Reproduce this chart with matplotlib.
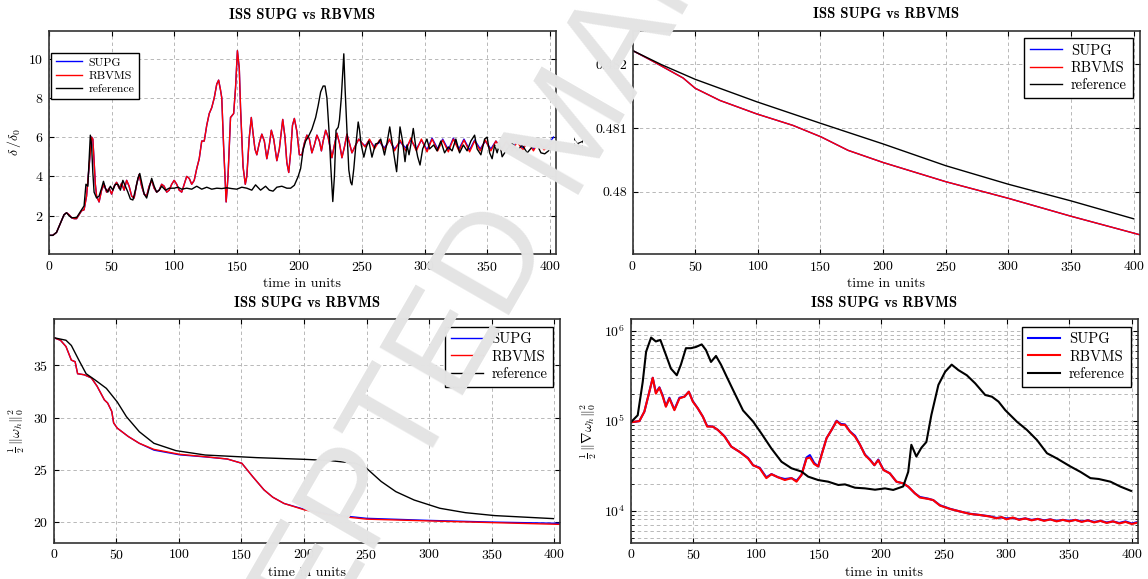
""" plot.py """

import numpy as np
import matplotlib
matplotlib.use("Agg")
import matplotlib.pyplot as plt
from matplotlib.ticker import FixedLocator, FuncFormatter, LogLocator

plt.rcParams['font.family'] = 'serif'
plt.rcParams['font.serif'] = ['cmr10']
plt.rcParams['mathtext.fontset'] = 'cm'
plt.rcParams['axes.formatter.use_mathtext'] = True
plt.rcParams['axes.unicode_minus'] = False

###################################################
# Data
###################################################

series_names = ["SUPG", "RBVMS", "reference"]
chart_title = "ISS SUPG vs RBVMS"
x_label = "time in units"

# --- delta / delta_0 (top left) ---
t_delta = [0, 3, 6, 9, 12, 14, 16, 18, 20, 22, 24, 26, 28, 30, 32, 34, 35, 36,
           37, 38, 40, 42, 44, 46, 48, 50, 52, 54, 56, 58, 60, 62, 64, 66, 68,
           70, 72, 74, 76, 78, 80, 82, 84, 86, 88, 90, 92, 94, 96, 98, 100,
           102, 104, 106, 108, 110, 112, 114, 116, 118, 120, 122, 124, 126,
           128, 130, 132, 134, 135.5, 137, 138, 139.5, 141.5, 143, 145, 147.5,
           149, 150.5, 152, 153, 155, 156.8, 158, 160, 161.6, 163, 164.5, 166,
           168, 170, 172, 174, 176, 177.6, 179.5, 182, 184, 186.7, 188.5, 190,
           191.5, 193, 194.5, 196, 198, 200, 202, 204, 206, 208, 210, 212, 214,
           216, 217.6, 219, 221, 223, 226, 228, 230, 232, 234, 236, 238, 240,
           242, 245, 247.5]
rbvms_delta_early = [1.0, 1.0, 1.15, 1.6, 2.05, 2.15, 2.05, 1.9, 1.85, 1.85,
                     2.05, 2.25, 2.3, 3.0, 4.5, 6.0, 5.9, 4.8, 3.6, 3.0, 2.7,
                     3.3, 3.6, 3.2, 3.4, 3.1, 3.5, 3.7, 3.4, 3.65, 3.3, 3.8,
                     3.5, 3.0, 2.9, 3.6, 4.1, 3.5, 3.1, 3.0, 3.5, 3.8, 3.4,
                     3.2, 3.3, 3.6, 3.5, 3.2, 3.3, 3.6, 3.8, 3.6, 3.3, 3.2,
                     3.6, 4.0, 3.9, 3.6, 3.8, 4.4, 4.9, 5.8, 5.8, 6.6, 7.2,
                     7.5, 8.0, 8.7, 8.9, 8.4, 8.0, 5.5, 2.7, 4.0, 7.0, 7.2,
                     8.5, 10.4, 9.5, 7.5, 4.5, 3.6, 4.0, 6.0, 7.0, 6.2, 5.4,
                     5.1, 5.7, 6.15, 5.8, 4.9, 5.6, 6.35, 5.9, 4.8, 5.4, 6.9,
                     6.0, 4.7, 4.2, 5.2, 6.6, 6.95, 6.3, 5.1, 5.1, 5.7, 6.1,
                     5.9, 5.2, 5.6, 6.1, 5.8, 5.3, 5.8, 6.35, 6.0, 4.95, 5.6,
                     6.2, 5.7, 4.95, 5.5, 6.15, 5.7, 5.2, 5.6, 5.9]
t_delta_late = [250, 252.5, 256, 260, 264, 268, 272, 276, 280.5, 285, 289,
                293.5, 297.5, 302, 306, 310.5, 314.5, 319, 323, 327.5, 331.5,
                336, 340, 344.5, 348.5, 353, 357, 361.5, 365.5, 370, 374,
                378.5, 382.5, 387, 391, 395.5, 399.5, 403]
rbvms_delta_late = [5.7, 5.5, 5.9, 5.4, 5.85, 5.35, 5.9, 5.3, 5.85, 5.3,
                    5.95, 5.3, 5.9, 5.25, 5.9, 5.3, 5.85, 5.25, 5.9, 5.3,
                    5.85, 5.25, 5.8, 5.3, 5.85, 5.3, 5.8, 5.35, 5.8, 5.3,
                    5.75, 5.35, 5.8, 5.3, 5.75, 5.35, 5.6, 5.7]
supg_delta_late = [5.7, 5.55, 5.85, 5.5, 5.75, 5.45, 5.85, 5.4, 5.75, 5.45,
                   5.85, 5.4, 5.85, 5.35, 5.95, 5.4, 5.9, 5.35, 5.95, 5.4,
                   5.9, 5.35, 5.85, 5.4, 5.8, 5.4, 5.8, 5.45, 5.75, 5.4,
                   5.8, 5.45, 5.75, 5.4, 5.8, 5.45, 5.7, 6.0]

t_delta_ref = [0, 3, 6, 9, 12, 14, 16, 18, 20, 22, 24, 26, 28, 29.5, 31, 33,
               34, 35, 36, 38, 40, 42, 43.5, 45, 47, 49, 51, 53, 55, 57, 59,
               61, 63, 65, 67, 69, 71, 72.5, 74, 76, 78, 80, 82, 84, 86, 88,
               90, 93, 96, 100, 103, 106, 110, 114, 118, 122, 126, 130, 134,
               138, 142, 146, 150, 154, 158, 162, 165, 169, 173, 176, 179,
               182, 186, 190, 193, 196, 199, 201, 203, 205, 207, 210, 213,
               215, 217, 219, 220.5, 222, 224, 225, 226.7, 228, 229.3, 231,
               232, 233.5, 235.5, 236.5, 238, 239.5, 241, 242, 243.5, 245,
               247, 248, 249.3, 251.5, 253.5, 255.5, 258, 260.8, 263, 265,
               268, 270, 272.2, 275, 277.7, 280.4, 282.3, 284.4, 286, 287.6,
               289, 291, 293, 294.5, 296.4, 298.5, 301.9, 304, 307.3, 310,
               313, 316, 319, 322, 325, 328, 331, 334, 337, 340, 342, 345,
               348, 350, 352, 354, 356, 358, 360, 362, 366, 370, 374, 378,
               382, 386, 390, 393, 396, 399, 401]
ref_delta = [1.0, 1.0, 1.15, 1.6, 2.05, 2.15, 2.0, 1.9, 1.9, 1.9, 2.1, 2.3,
             2.5, 3.6, 3.5, 6.1, 5.6, 4.2, 3.2, 2.9, 3.0, 3.4, 3.75, 3.4, 3.2,
             3.5, 3.3, 3.6, 3.6, 3.3, 3.8, 3.5, 3.2, 2.85, 2.8, 3.3, 3.9,
             4.15, 3.7, 3.1, 2.9, 3.4, 3.9, 3.5, 3.2, 3.3, 3.5, 3.3, 3.4,
             3.4, 3.45, 3.35, 3.4, 3.35, 3.5, 3.35, 3.45, 3.35, 3.4, 3.38,
             3.42, 3.38, 3.35, 3.45, 3.4, 3.3, 3.57, 3.3, 3.5, 3.3, 3.25,
             3.45, 3.5, 3.4, 3.4, 3.55, 3.99, 4.4, 5.35, 5.8, 6.0, 6.4, 7.0,
             7.6, 8.3, 8.6, 8.6, 8.0, 6.0, 4.6, 2.72, 4.0, 6.35, 6.5, 6.86,
             8.0, 10.24, 8.5, 6.35, 4.33, 3.7, 3.57, 4.4, 5.5, 6.77, 6.4,
             5.65, 4.98, 5.5, 5.8, 4.98, 5.65, 5.7, 5.9, 5.09, 5.7, 6.52,
             5.34, 4.24, 6.52, 5.85, 4.75, 5.6, 5.1, 5.6, 6.44, 5.5, 5.0,
             4.58, 5.4, 5.9, 5.4, 5.6, 5.3, 5.8, 5.2, 5.5, 5.3, 5.9, 5.2,
             5.6, 5.3, 5.8, 6.1, 5.4, 5.1, 5.9, 6.0, 5.2, 4.9, 5.6, 5.2, 5.7,
             5.0, 5.4, 5.7, 5.3, 5.6, 5.2, 5.5, 5.6, 5.2, 5.15, 5.3, 5.5]

# --- kinetic energy (top right) ---
t_energy = [0, 15.5, 40.4, 50, 69.7, 99, 128, 150.5, 172, 200, 250, 300,
            350, 405]
rbvms_energy = [0.48221, 0.48205, 0.48178, 0.48162, 0.48143, 0.48122,
                0.48104, 0.48086, 0.48065, 0.48046, 0.48016, 0.47990,
                0.47962, 0.47933]
supg_energy = [0.48221, 0.48205, 0.48178, 0.48162, 0.48143, 0.48122,
               0.48104, 0.48086, 0.48065, 0.48046, 0.48016, 0.47990,
               0.47962, 0.47933]
t_energy_ref = [0, 23, 50, 99, 150.5, 200, 250, 300, 350, 400]
ref_energy = [0.48221, 0.48199, 0.48176, 0.48141, 0.48107, 0.48075,
              0.48041, 0.48012, 0.47986, 0.47958]

# --- enstrophy (bottom left) ---
t_enst = [0, 5.3, 9.7, 14, 17, 19, 24.3, 30, 34.6, 40.4, 43, 46.3, 47.8,
          50.7, 59.5, 68.3, 80, 100.5, 121, 138.6, 150.3, 159, 168, 175,
          184, 200, 220.7, 250, 300, 350, 405]
rbvms_enst = [37.64, 37.4, 36.8, 35.5, 35.35, 34.2, 34.1, 33.8, 33.0, 31.7,
              31.4, 30.6, 29.5, 29.0, 28.2, 27.55, 26.97, 26.5, 26.27, 26.05,
              25.64, 24.36, 23.1, 22.4, 21.8, 21.2, 20.67, 20.3, 20.13,
              19.97, 19.8]
supg_enst = [37.64, 37.4, 36.8, 35.5, 35.35, 34.2, 34.1, 33.8, 33.0, 31.7,
             31.4, 30.6, 29.5, 29.0, 28.2, 27.55, 26.9, 26.45, 26.25, 26.05,
             25.64, 24.36, 23.1, 22.4, 21.8, 21.25, 20.75, 20.38, 20.18,
             20.02, 19.9]
t_enst_ref = [0, 9.7, 14, 20, 25.8, 33, 42, 50.7, 58, 68.3, 80, 97.6, 121,
              162, 200, 220.7, 241, 250, 261.7, 273.4, 288, 308.6, 329,
              352.5, 399.4]
ref_enst = [37.64, 37.4, 36.9, 35.5, 34.2, 33.6, 32.8, 31.5, 30.1, 28.66,
            27.55, 26.85, 26.43, 26.18, 26.02, 25.9, 25.64, 25.16, 23.9,
            22.93, 22.13, 21.34, 20.92, 20.64, 20.35]

# --- palinstrophy (bottom right, log scale) ---
t_grad = [0, 6.8, 10.8, 14.8, 17.5, 20, 22.8, 25.5, 28, 30.8, 34.8, 38.8,
          42.8, 46.3, 49.5, 53.5, 57.5, 61, 65.5, 69.5, 74.9, 80.2, 86.9,
          93.6, 97.6, 102.9, 108.2, 112.3, 117.6, 123, 128.3, 132.3, 136.3,
          140.3, 143, 146.4, 149.6, 152.3, 156.3, 160.3, 164.3, 167.7, 171,
          175, 179, 183, 187, 191, 194.5, 197.6, 201.7, 206.8, 212.1, 217.5,
          221.5, 226.8, 230.8, 237.5, 241.5, 246.8, 254.8, 262.8, 270.8,
          278.8, 286.8, 292, 296, 300, 305, 310, 315, 320, 325, 330, 335,
          340, 345, 350, 355, 360, 365, 370, 375, 380, 385, 390, 395, 400,
          405]
rbvms_grad = [9.6e4, 9.9e4, 1.26e5, 2.1e5, 3.0e5, 2.0e5, 2.33e5, 1.85e5,
              1.43e5, 1.77e5, 1.31e5, 1.77e5, 1.85e5, 2.1e5, 1.63e5, 1.37e5,
              1.11e5, 8.6e4, 8.6e4, 7.9e4, 6.65e4, 5.15e4, 4.5e4, 3.8e4,
              3.2e4, 2.96e4, 2.3e4, 2.54e4, 2.35e4, 2.19e4, 2.3e4, 2.1e4,
              2.5e4, 3.8e4, 3.9e4, 3.3e4, 3.1e4, 4.15e4, 6.4e4, 7.9e4, 9.9e4,
              9.0e4, 9.0e4, 7.55e4, 6.65e4, 5.4e4, 4.15e4, 3.65e4, 3.2e4,
              3.65e4, 2.83e4, 2.6e4, 2.1e4, 2.01e4, 1.85e4, 1.56e4, 1.4e4,
              1.35e4, 1.31e4, 1.14e4, 1.045e4, 9.8e3, 9.2e3, 8.95e3, 8.6e3,
              8.2e3, 8.5e3, 8.0e3, 8.4e3, 7.9e3, 8.2e3, 7.8e3, 8.1e3, 7.7e3,
              8.0e3, 7.6e3, 7.9e3, 7.6e3, 7.9e3, 7.5e3, 7.8e3, 7.4e3, 7.7e3,
              7.3e3, 7.6e3, 7.2e3, 7.5e3, 7.1e3, 7.4e3]
supg_grad = [9.6e4, 9.9e4, 1.26e5, 2.1e5, 3.0e5, 2.05e5, 2.35e5, 1.9e5,
             1.45e5, 1.8e5, 1.33e5, 1.8e5, 1.85e5, 2.1e5, 1.65e5, 1.37e5,
             1.11e5, 8.7e4, 8.6e4, 7.9e4, 6.7e4, 5.15e4, 4.5e4, 3.85e4,
             3.2e4, 3.0e4, 2.35e4, 2.55e4, 2.35e4, 2.25e4, 2.3e4, 2.15e4,
             2.5e4, 3.9e4, 4.15e4, 3.4e4, 3.1e4, 4.2e4, 6.4e4, 7.9e4, 1.0e5,
             9.2e4, 9.1e4, 7.6e4, 6.8e4, 5.4e4, 4.2e4, 3.7e4, 3.2e4, 3.7e4,
             2.85e4, 2.6e4, 2.1e4, 2.01e4, 1.85e4, 1.56e4, 1.42e4, 1.36e4,
             1.31e4, 1.15e4, 1.05e4, 9.8e3, 9.25e3, 8.95e3, 8.65e3, 8.3e3,
             8.4e3, 8.2e3, 8.3e3, 8.0e3, 8.2e3, 7.9e3, 8.1e3, 7.8e3, 8.0e3,
             7.7e3, 7.9e3, 7.7e3, 7.9e3, 7.6e3, 7.8e3, 7.5e3, 7.7e3, 7.4e3,
             7.6e3, 7.3e3, 7.6e3, 7.2e3, 7.5e3]
t_grad_ref = [0, 5.5, 9.5, 12.2, 16.2, 20, 23.6, 28, 32, 36.7, 40, 44, 48,
              52, 56.6, 60, 64, 68, 72, 76, 81.6, 89.6, 97.6, 104.3, 112.3,
              120.3, 128.3, 136.3, 141.6, 149.6, 157.6, 165.7, 171, 179, 187,
              195, 203, 209.5, 217.5, 221.5, 224, 228, 232, 236, 240, 245.6,
              251, 256.2, 261.6, 268.3, 275, 283, 288.3, 293.6, 299, 308.3,
              316.3, 324.3, 332.3, 340.3, 351, 359, 367, 373.6, 383, 391,
              399.4]
ref_grad = [9.6e4, 1.15e5, 2.7e5, 5.85e5, 8.4e5, 7.6e5, 7.9e5, 5.4e5, 3.8e5,
            3.2e5, 4.2e5, 6.4e5, 6.4e5, 6.6e5, 7.05e5, 6.1e5, 4.5e5, 5.25e5,
            4.2e5, 3.2e5, 2.2e5, 1.3e5, 9.8e4, 7.2e4, 4.9e4, 3.5e4, 2.96e4,
            2.72e4, 2.39e4, 2.19e4, 2.1e4, 1.93e4, 1.96e4, 1.8e4, 1.77e4,
            1.71e4, 1.77e4, 1.7e4, 1.86e4, 2.7e4, 5.4e4, 4.0e4, 5.0e4,
            5.8e4, 1.16e5, 2.5e5, 3.5e5, 4.2e5, 3.65e5, 3.2e5, 2.6e5,
            1.93e5, 1.85e5, 1.63e5, 1.31e5, 9.75e4, 7.9e4, 6.1e4, 4.35e4,
            3.8e4, 3.1e4, 2.7e4, 2.3e4, 2.25e4, 2.1e4, 1.85e4, 1.66e4]

###################################################
# Figure
###################################################

fig = plt.figure(figsize=(11.48, 5.79), dpi=100)

ax_tl = fig.add_axes([0.0427, 0.5613, 0.4416, 0.3851])
ax_tr = fig.add_axes([0.5510, 0.5613, 0.4420, 0.3857])
ax_bl = fig.add_axes([0.0469, 0.0627, 0.4413, 0.3858])
ax_br = fig.add_axes([0.5495, 0.0627, 0.4418, 0.3858])

grid_kw = dict(color='#b8b8b8', linestyle=(0, (3.5, 3)), linewidth=0.7)


def style_axes(ax, lw=1.0):
    """pgfplots-like look: inward ticks on all sides, dashed grid."""
    ax.set_xlim(0, 405)
    ax.set_xticks(np.arange(0, 401, 50))
    ax.tick_params(direction='in', top=True, right=True, length=3.5,
                   width=0.8, labelsize=10, pad=4)
    ax.tick_params(which='minor', direction='in', top=True, right=True,
                   length=2, width=0.6)
    ax.grid(True, which='major', **grid_kw)
    for sp in ax.spines.values():
        sp.set_linewidth(1.2)
        sp.set_color('#333333')
    ax.set_title(chart_title, family='cmb10', fontsize=10.5, pad=9)
    ax.set_xlabel(x_label, fontsize=10, labelpad=3)


def add_legend(ax, loc, fontsize=10, **kw):
    leg = ax.legend(loc=loc, fontsize=fontsize, fancybox=False,
                    framealpha=1, edgecolor='black', borderaxespad=0.5,
                    handlelength=2.2, handletextpad=0.6, labelspacing=0.25,
                    borderpad=0.4, markerfirst=True, **kw)
    leg.get_frame().set_linewidth(1.0)
    for txt in leg.get_texts():
        txt.set_ha('right')
    return leg


# top left: delta / delta_0
lw = 1.0
ax_tl.plot(t_delta + t_delta_late, rbvms_delta_early + supg_delta_late,
           color='blue', lw=lw, label=series_names[0])
ax_tl.plot(t_delta + t_delta_late, rbvms_delta_early + rbvms_delta_late,
           color='red', lw=lw, label=series_names[1])
ax_tl.plot(t_delta_ref, ref_delta, color='black', lw=lw,
           label=series_names[2])
style_axes(ax_tl)
ax_tl.set_ylim(0.05, 11.4)
ax_tl.set_yticks([2, 4, 6, 8, 10])
ax_tl.set_ylabel(r'$\delta\,/\delta_0$', fontsize=10, labelpad=4)
add_legend(ax_tl, 'upper left', fontsize=8.5,
           bbox_to_anchor=(-0.008, 0.93))

# top right: energy
ax_tr.plot(t_energy, supg_energy, color='blue', lw=lw,
           label=series_names[0])
ax_tr.plot(t_energy, rbvms_energy, color='red', lw=lw,
           label=series_names[1])
ax_tr.plot(t_energy_ref, ref_energy, color='black', lw=lw,
           label=series_names[2])
style_axes(ax_tr)
ax_tr.set_ylim(0.47903, 0.48252)
ax_tr.yaxis.set_major_locator(FixedLocator([0.480, 0.481, 0.482]))
ax_tr.yaxis.set_major_formatter(FuncFormatter(lambda v, p: f"{v:g}"))
ax_tr.set_ylabel(r'$K$', fontsize=10, labelpad=6)
add_legend(ax_tr, 'upper right', fontsize=10.5)

# bottom left: enstrophy
ax_bl.plot(t_enst, supg_enst, color='blue', lw=lw, label=series_names[0])
ax_bl.plot(t_enst, rbvms_enst, color='red', lw=lw, label=series_names[1])
ax_bl.plot(t_enst_ref, ref_enst, color='black', lw=lw,
           label=series_names[2])
style_axes(ax_bl)
ax_bl.set_ylim(18.05, 39.4)
ax_bl.set_yticks([20, 25, 30, 35])
ax_bl.set_ylabel(r'$\frac{1}{2}\,\|\omega_h\|_0^2$', fontsize=10,
                 labelpad=4)
add_legend(ax_bl, 'upper right', fontsize=10.5)

# bottom right: palinstrophy
ax_br.plot(t_grad, supg_grad, color='blue', lw=1.5, label=series_names[0])
ax_br.plot(t_grad, rbvms_grad, color='red', lw=1.5, label=series_names[1])
ax_br.plot(t_grad_ref, ref_grad, color='black', lw=1.5,
           label=series_names[2])
ax_br.set_yscale('log')
style_axes(ax_br)
ax_br.set_ylim(10 ** 3.644, 10 ** 6.127)
ax_br.yaxis.set_major_locator(LogLocator(base=10, numticks=10))
ax_br.yaxis.set_minor_locator(LogLocator(base=10, subs=np.arange(2, 10),
                                         numticks=20))
ax_br.grid(True, which='minor', axis='y', **grid_kw)
ax_br.set_ylabel(r'$\frac{1}{2}\,\|\nabla\omega_h\|_0^2$', fontsize=10,
                 labelpad=4)
add_legend(ax_br, 'upper right', fontsize=10.5)

# watermark of the manuscript page
fig.text(0.1533, -0.5406, "ACCEPTED MANUSCRIPT", rotation=60,
         rotation_mode='anchor', ha='left', va='baseline', fontsize=100,
         family='Liberation Sans', color='#e4e4e4', zorder=10)

fig.savefig("out.png", dpi=100)
